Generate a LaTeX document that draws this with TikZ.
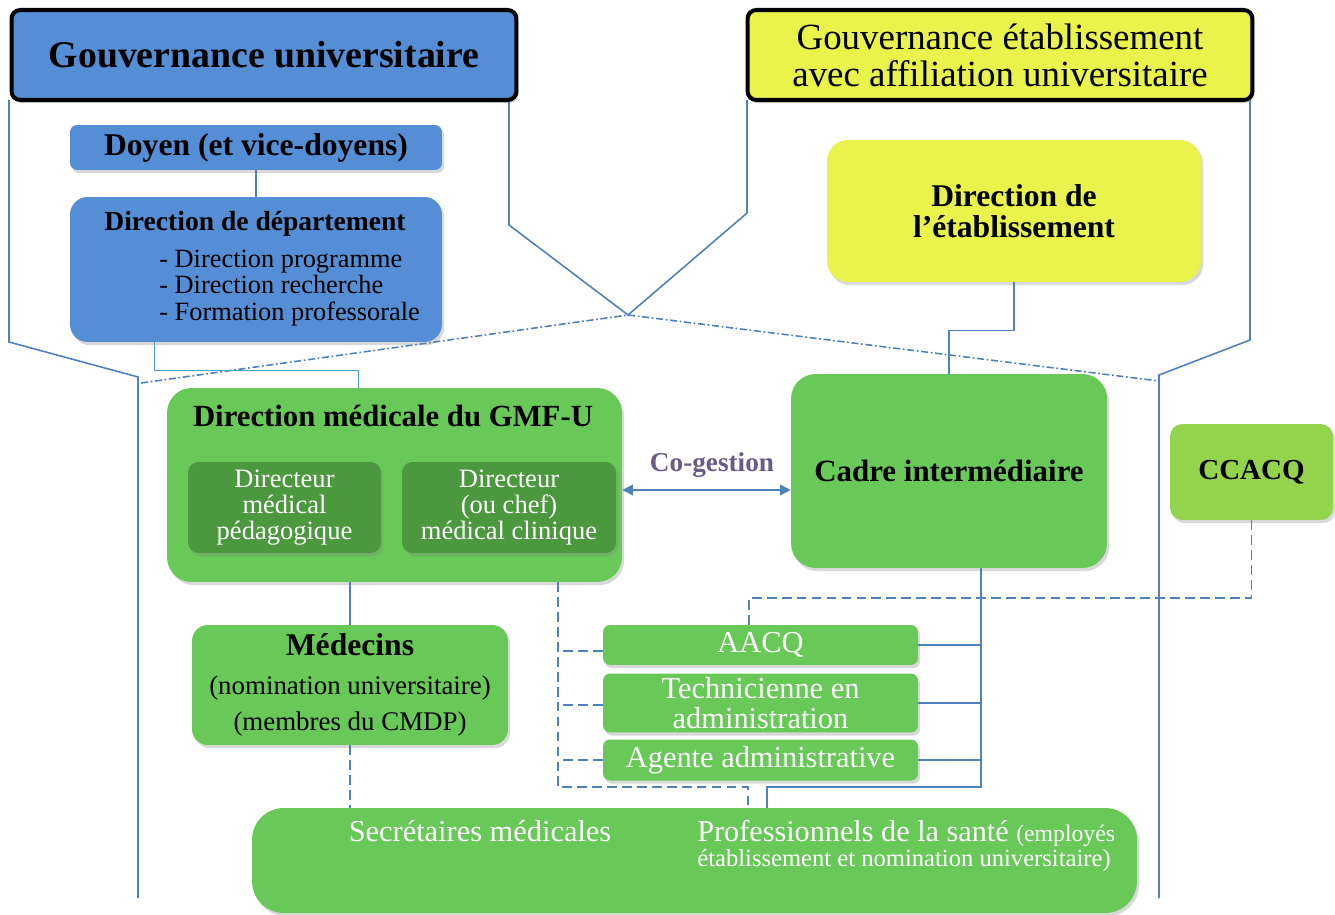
\documentclass[tikz,border=0pt]{standalone}
\usepackage{fontspec}
\setmainfont{Liberation Serif}
\usetikzlibrary{calc,shadows,arrows.meta}

\definecolor{govblue}{RGB}{85,142,213}
\definecolor{govyellow}{RGB}{234,242,76}
\definecolor{gmfgreen}{RGB}{104,201,88}
\definecolor{gmfdark}{RGB}{76,152,62}
\definecolor{qgreen}{RGB}{148,212,76}
\definecolor{linkblue}{RGB}{79,129,189}
\definecolor{linkteal}{RGB}{70,160,200}
\definecolor{cogray}{RGB}{105,90,135}

\newcommand{\setfs}[2]{\fontsize{#1pt}{#2pt}\selectfont}

\tikzset{
	boxbase/.style={inner sep=0pt, align=center,
		drop shadow={shadow xshift=1.2pt, shadow yshift=-1.8pt, opacity=0.3}},
	govbox/.style={boxbase, draw=black, line width=2.3pt, rounded corners=5pt,
		minimum width=10.1cm, minimum height=1.8cm},
	bluebox/.style={boxbase, fill=govblue, rounded corners=#1},
	yellowbox/.style={boxbase, fill=govyellow, rounded corners=#1},
	greenbox/.style={boxbase, fill=gmfgreen, rounded corners=#1},
	darkbox/.style={boxbase, fill=gmfdark, rounded corners=6pt, text=white,
		minimum height=1.82cm, font=\setfs{15.1}{15}},
	staffbox/.style={boxbase, fill=gmfgreen, rounded corners=4pt, text=white,
		minimum width=6.3cm, font=\setfs{17.3}{17}},
	link/.style={draw=linkblue, line width=0.9pt},
	duty/.style={link, dash pattern=on 5.5pt off 3pt},
	frontier/.style={link, dash pattern=on 4pt off 1.5pt on 1pt off 1.5pt},
}

\begin{document}
\begin{tikzpicture}[x=0.02cm, y=-0.02cm]

	\useasboundingbox[fill=white] (0,0) rectangle (1335,915);

	% frontiers between the two governances
	\coordinate (apex) at (628,315);
	\draw[link] (9,100) -- (9,342) -- (138,377) -- (138,898);
	\draw[link] (509,100) -- (509,225) -- (apex) -- (747,213) -- (747,100);
	\draw[link] (1250,100) -- (1250,340) -- (1159,375) -- (1159,898);
	\draw[frontier] (141,383) -- (apex) -- (1159,381);

	% headers
	\node[govbox, fill=govblue, font=\setfs{21.5}{24}\bfseries] (univ) at (264,55)
		{Gouvernance universitaire};
	\node[govbox, fill=govyellow, font=\setfs{21}{21}] (etabgov) at (1000,55)
		{Gouvernance établissement\\avec affiliation universitaire};

	% university side
	\node[bluebox=4pt, minimum width=7.44cm, minimum height=0.9cm, font=\setfs{18}{18}\bfseries] (doyen) at (256,147.5)
		{Doyen (et vice-doyens)};
	\node[bluebox=10pt, minimum width=7.44cm, minimum height=2.9cm] (dept) at (256,269.5) {};
	\node[font=\setfs{15.7}{16}\bfseries] (depttitle) at (255,224) {Direction de département};
	\node[anchor=west, align=left, inner sep=0pt, font=\setfs{15}{15}] (deptlist) at (159,288)
		{- Direction programme\\- Direction recherche\\- Formation professorale};

	% establishment side
	\node[yellowbox=12pt, minimum width=7.48cm, minimum height=2.84cm, font=\setfs{18}{17.6}\bfseries] (etab) at (1014,211)
		{Direction de\\l’établissement};

	% GMF-U
	\node[greenbox=14pt, minimum width=9.1cm, minimum height=3.88cm] (dirmed) at (394.5,485) {};
	\node[font=\setfs{17.5}{18}\bfseries] (dirmedtitle) at (393,416) {Direction médicale du GMF-U};
	\node[darkbox, minimum width=3.86cm] (pedago) at (284.5,507.5) {Directeur\\médical\\pédagogique};
	\node[darkbox, minimum width=4.28cm] (clinic) at (509,507.5) {Directeur\\(ou chef)\\médical clinique};

	\node[greenbox=14pt, minimum width=6.32cm, minimum height=3.88cm, font=\setfs{17.6}{18}\bfseries] (cadre) at (949,471)
		{Cadre intermédiaire};
	\node[boxbase, fill=qgreen, rounded corners=7pt, minimum width=3.26cm, minimum height=1.92cm,
		font=\setfs{16.5}{17}\bfseries] (ccacq) at (1251.5,472) {CCACQ};

	\node[greenbox=9pt, minimum width=6.32cm, minimum height=2.4cm, font=\setfs{15.3}{21}] (medecins) at (350,685)
		{{\setfs{18}{21}\bfseries Médecins}\\[1pt](nomination universitaire)\\(membres du CMDP)};

	\node[staffbox, minimum height=0.8cm] (aacq) at (760.5,645) {AACQ};
	\node[staffbox, minimum height=1.18cm] (tech) at (760.5,703) {Technicienne en\\administration};
	\node[staffbox, minimum height=0.82cm] (agente) at (760.5,760) {Agente administrative};

	\node[greenbox=18pt, minimum width=17.7cm, minimum height=2.1cm] (staff) at (694.5,860.5) {};
	\node[anchor=base, text=white, font=\setfs{17.3}{17}] (secr) at (480,841) {Secrétaires médicales};
	\node[anchor=base west, inner sep=0pt, text=white, font=\setfs{17.2}{17}] (prof) at (697,841)
		{Professionnels de la santé {\setfs{13.5}{14}(employés}};
	\node[anchor=base west, inner sep=0pt, text=white, font=\setfs{14}{14}] (profnote) at (697,866)
		{établissement et nomination universitaire)};

	% hierarchy links
	\draw[link] (doyen.south) -- (dept.north);
	\draw[link, draw=linkteal] ($(dept.south west)+(85,0)$) -- ++(0,28) -| ($(dirmed.north west)+(192,0)$);
	\draw[link] (etab.south) -- ++(0,48) -| (cadre.north);
	\draw[link] (medecins.north) -- (medecins.north |- dirmed.south);
	\draw[duty] (medecins.south) -- (medecins.south |- staff.north);

	% co-gestion
	\draw[link, line width=1.1pt, {Triangle[length=6pt,width=6pt]}-{Triangle[length=6pt,width=6pt]}]
		($(dirmed.east)+(0,5)$) -- ($(cadre.west)+(0,19)$);
	\node[font=\setfs{15.5}{16}\bfseries, text=cogray] (cogest) at (712,465) {Co-gestion};

	% dashed bus from the medical direction
	\coordinate (busL) at (558,787);
	\coordinate (busLend) at (748,787);
	\draw[duty] (busL |- dirmed.south) -- (busL) -- (busLend) -- (busLend |- staff.north);
	\draw[duty] ($(aacq.west)+(0,6)$) -- ($(aacq.west -| busL)+(0,6)$);
	\draw[duty] ($(tech.west)+(0,2)$) -- ($(tech.west -| busL)+(0,2)$);
	\draw[duty] (agente.west) -- (agente.west -| busL);

	% solid bus from the cadre
	\coordinate (busR) at (981,787);
	\coordinate (busRend) at (767,787);
	\draw[link] (cadre.south -| busR) -- (busR) -- (busRend) -- (busRend |- staff.north);
	\draw[link] (aacq.east) -- (aacq.east -| busR);
	\draw[link] (tech.east) -- (tech.east -| busR);
	\draw[link] (agente.east) -- (agente.east -| busR);

	% quality committee
	\coordinate (qbus) at (749,598);
	\draw[duty] (ccacq.south) |- (qbus) -- (qbus |- aacq.north);

\end{tikzpicture}
\end{document}
